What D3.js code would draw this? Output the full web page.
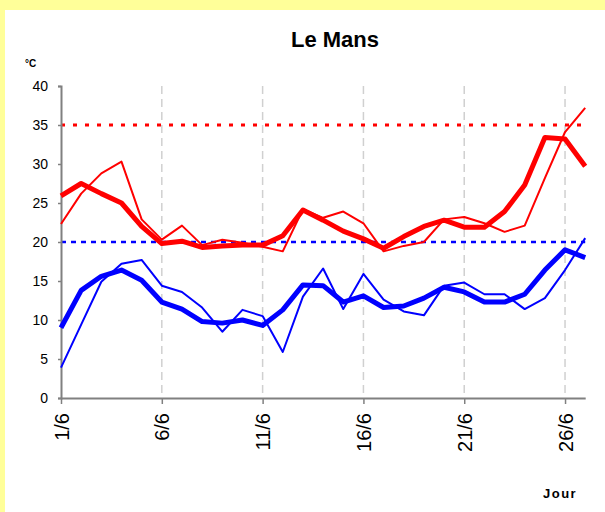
<!DOCTYPE html>
<html>
<head>
<meta charset="utf-8">
<script src="https://cdn.jsdelivr.net/npm/d3@7"></script>
<style>
  html, body { margin: 0; padding: 0; background: #ffff99; }
  svg { display: block; font-family: "Liberation Sans", Arial, sans-serif; }
</style>
</head>
<body>
<svg id="chart" width="605" height="512"></svg>
<script>
const days = d3.range(1, 28);
const tickDays = [1, 6, 11, 16, 21, 26];
const yTicks = [0, 5, 10, 15, 20, 25, 30, 35, 40];
const tmaxDaily = [22.3, 26.2, 28.8, 30.3, 22.9, 20.3, 22.1, 19.6, 20.3, 19.9, 19.4, 18.8, 24.2, 23.1, 23.9, 22.4, 18.8, 19.5, 20.0, 22.9, 23.2, 22.4, 21.3, 22.1, 28.2, 34.1, 37.2];
const tmaxSmooth = [25.9, 27.5, 26.2, 25.0, 22.0, 19.8, 20.1, 19.3, 19.5, 19.6, 19.6, 20.8, 24.1, 22.8, 21.4, 20.4, 19.2, 20.7, 22.0, 22.8, 21.9, 21.9, 23.9, 27.3, 33.4, 33.2, 29.7];
const tminDaily = [3.9, 9.4, 14.9, 17.2, 17.7, 14.4, 13.6, 11.6, 8.5, 11.3, 10.5, 5.9, 13.0, 16.6, 11.4, 15.9, 12.6, 11.1, 10.6, 14.4, 14.8, 13.3, 13.3, 11.4, 12.8, 16.4, 20.5];
const tminSmooth = [9.0, 13.8, 15.6, 16.4, 15.1, 12.3, 11.4, 9.8, 9.6, 10.0, 9.3, 11.3, 14.5, 14.4, 12.3, 13.1, 11.6, 11.8, 12.8, 14.2, 13.6, 12.3, 12.3, 13.3, 16.4, 19.0, 18.0];
const hotThreshold = 35;
const coolThreshold = 20;

const svg = d3.select("#chart");
svg.append("rect").attr("x", 5).attr("y", 10).attr("width", 600).attr("height", 502).attr("fill", "#ffffff");

const x = d3.scaleLinear().domain([1, 27]).range([61, 585.2]);
const y = d3.scaleLinear().domain([0, 40]).range([398, 86]);

// vertical dashed grid lines
svg.append("g").selectAll("line").data(tickDays.slice(1)).join("line")
  .attr("x1", d => x(d)).attr("x2", d => x(d))
  .attr("y1", y(40)).attr("y2", y(0))
  .attr("stroke", "#d0d0d0").attr("stroke-width", 1.5).attr("stroke-dasharray", "8,5");

// thresholds
svg.append("line").attr("x1", x(1)).attr("x2", x(27)).attr("y1", y(hotThreshold)).attr("y2", y(hotThreshold))
  .attr("stroke", "#ff0000").attr("stroke-width", 3).attr("stroke-dasharray", "4,8");
svg.append("line").attr("x1", x(1)).attr("x2", x(27)).attr("y1", y(coolThreshold)).attr("y2", y(coolThreshold))
  .attr("stroke", "#0000ff").attr("stroke-width", 2.5).attr("stroke-dasharray", "5,5");

// axes
const yAxis = d3.axisLeft(y).tickValues(yTicks).tickSize(3).tickPadding(10).tickFormat(d3.format("d"));
const gy = svg.append("g").attr("transform", `translate(${x(1)},0)`).call(yAxis);
gy.select(".domain").attr("stroke", "#808080").attr("stroke-width", 2);
gy.selectAll(".tick line").attr("stroke", "#808080").attr("stroke-width", 1.5);
gy.selectAll(".tick text").attr("font-size", 14).attr("fill", "#000").attr("font-family", "Liberation Sans, Arial, sans-serif");

const xAxis = d3.axisBottom(x).tickValues(tickDays).tickSize(6).tickSizeOuter(0).tickFormat(d => d + "/6");
const gx = svg.append("g").attr("transform", `translate(0,${y(0)})`).call(xAxis);
gx.select(".domain").attr("stroke", "#808080").attr("stroke-width", 2);
gx.selectAll(".tick line").attr("stroke", "#808080").attr("stroke-width", 1.5);
gx.selectAll(".tick text")
  .attr("font-size", 20).attr("fill", "#000").attr("font-family", "Liberation Sans, Arial, sans-serif")
  .attr("transform", "rotate(-90)")
  .attr("text-anchor", "end")
  .attr("x", -15).attr("y", 0).attr("dy", "0.35em");

// lines
const line = d3.line().x((d, i) => x(days[i])).y(d => y(d));
const series = [
  { data: tmaxSmooth, color: "#ff0000", w: 5 },
  { data: tmaxDaily, color: "#ff0000", w: 2 },
  { data: tminSmooth, color: "#0000ff", w: 5 },
  { data: tminDaily, color: "#0000ff", w: 2 }
];
svg.append("g").selectAll("path").data(series).join("path")
  .attr("d", s => line(s.data))
  .attr("fill", "none")
  .attr("stroke", s => s.color)
  .attr("stroke-width", s => s.w)
  .attr("stroke-linejoin", "round");

// texts
svg.append("text").attr("x", 335).attr("y", 47).attr("text-anchor", "middle")
  .attr("font-size", 22).attr("font-weight", "bold").text("Le Mans");
svg.append("text").attr("x", 25).attr("y", 67)
  .attr("font-size", 10).attr("font-weight", "bold").text("°C");
svg.append("text").attr("x", 543).attr("y", 498)
  .attr("font-size", 13).attr("font-weight", "bold").attr("letter-spacing", 1.5).text("Jour");
</script>
</body>
</html>
